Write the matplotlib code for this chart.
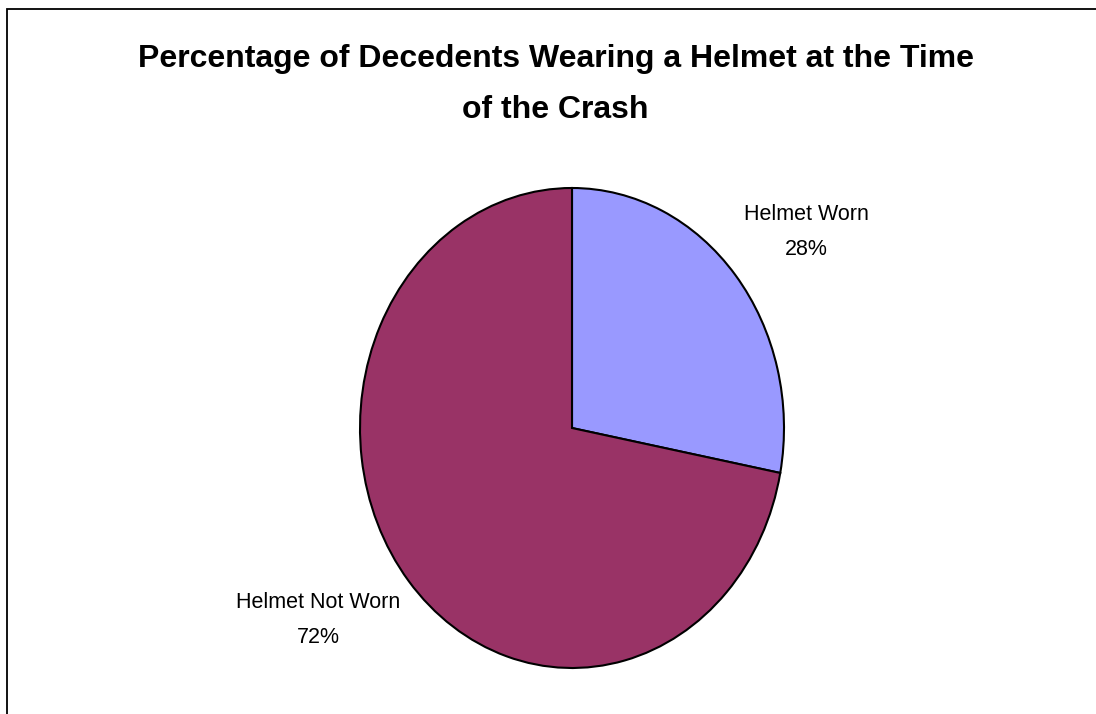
import matplotlib.pyplot as plt
from matplotlib.patches import Rectangle

plt.rcParams['font.family'] = ['Liberation Sans', 'DejaVu Sans']

# data
categories = ['Helmet Worn', 'Helmet Not Worn']
percentages = [28, 72]
colors = ['#9999FF', '#993366']
title = 'Percentage of Decedents Wearing a Helmet at the Time\nof the Crash'
# label placement in pie units (Excel "best fit" is not purely radial)
label_pos = [(1.104, 0.817), (-1.198, -0.800)]

fig = plt.figure(figsize=(10.96, 7.14), dpi=100)

# chart area border (left and top edges visible, rest runs off the image)
fig.patches.append(Rectangle((7 / 1096, -0.05), 1.2, (714 - 9) / 714 + 0.05,
                             transform=fig.transFigure, fill=False,
                             edgecolor='black', linewidth=1.3))

fig.text(0.507, 0.882, title, ha='center', va='center', fontsize=23,
         fontweight='bold', linespacing=1.9)

# pie is stretched vertically, like the original
ax = fig.add_axes([360 / 1096, 46 / 714, 424 / 1096, 480 / 714])
labels = [f'{c}\n{p}%' for c, p in zip(categories, percentages)]
wedges, texts = ax.pie(percentages, labels=labels, colors=colors,
                       startangle=90, counterclock=False, labeldistance=1.4,
                       wedgeprops=dict(edgecolor='black', linewidth=1.5),
                       textprops=dict(fontsize=15.5, linespacing=1.85))
for t, pos in zip(texts, label_pos):
    t.set_position(pos)
    t.set_ha('center')
    t.set_va('center')
    t.set_multialignment('center')
    t.set_clip_on(False)
ax.set_aspect('auto')
ax.set_xlim(-1, 1)
ax.set_ylim(-1, 1)
ax.axis('off')

fig.savefig('out.png', dpi=100)
